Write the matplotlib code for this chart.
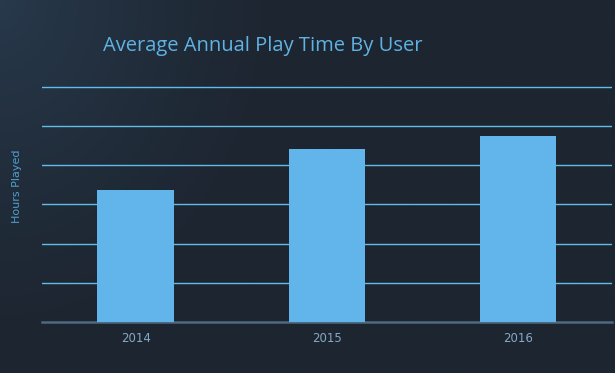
import numpy as np
import matplotlib.pyplot as plt

# data
years = ["2014", "2015", "2016"]
hours = [3.36, 4.41, 4.75]
grid_ticks = [1, 2, 3, 4, 5, 6]

bar_color = "#62b5ea"
text_color = "#5fb3e4"
grid_color = "#5fbde8"

fig = plt.figure(figsize=(6.15, 3.73), dpi=100)

# background gradient: slightly lighter in the top-left corner
bg = fig.add_axes([0, 0, 1, 1])
yy, xx = np.mgrid[0:1:200j, 0:1:300j]  # row 0 = top
d = np.clip(np.sqrt((xx / 0.45) ** 2 + (yy / 0.9) ** 2), 0, 1) ** 0.8
c0 = np.array([0x28, 0x3a, 0x4d]) / 255
c1 = np.array([0x1d, 0x25, 0x30]) / 255
img = c0[None, None, :] * (1 - d[..., None]) + c1[None, None, :] * d[..., None]
bg.imshow(img, aspect="auto", extent=[0, 1, 0, 1], origin="upper")
bg.axis("off")

ax = fig.add_axes([0.0683, 0.1367, 0.9267, 0.6355])
ax.patch.set_alpha(0)
x = np.arange(len(years))
ax.bar(x, hours, width=0.4, color=bar_color, zorder=3)
ax.set_xlim(-0.49, 2.49)
ax.set_ylim(0, 6.05)
ax.set_yticks(grid_ticks)
ax.yaxis.grid(True, color=grid_color, linewidth=1.0, zorder=1)
ax.set_axisbelow(True)
ax.tick_params(axis="y", left=False, labelleft=False)
ax.tick_params(axis="x", bottom=False, colors="#84a9c6", labelsize=8.5, pad=4)
ax.set_xticks(x)
ax.set_xticklabels(years)
for s in ["top", "left", "right"]:
    ax.spines[s].set_visible(False)
ax.spines["bottom"].set_color("#4d6a80")
ax.spines["bottom"].set_linewidth(1.8)

fig.text(0.428, 0.878, "Average Annual Play Time By User", ha="center", va="center",
         color=text_color, fontsize=14.5, family="Open Sans")
fig.text(0.028, 0.50, "Hours Played", rotation=90, ha="center", va="center",
         color="#4f9fcf", fontsize=8)

fig.savefig("out.png", dpi=100)
